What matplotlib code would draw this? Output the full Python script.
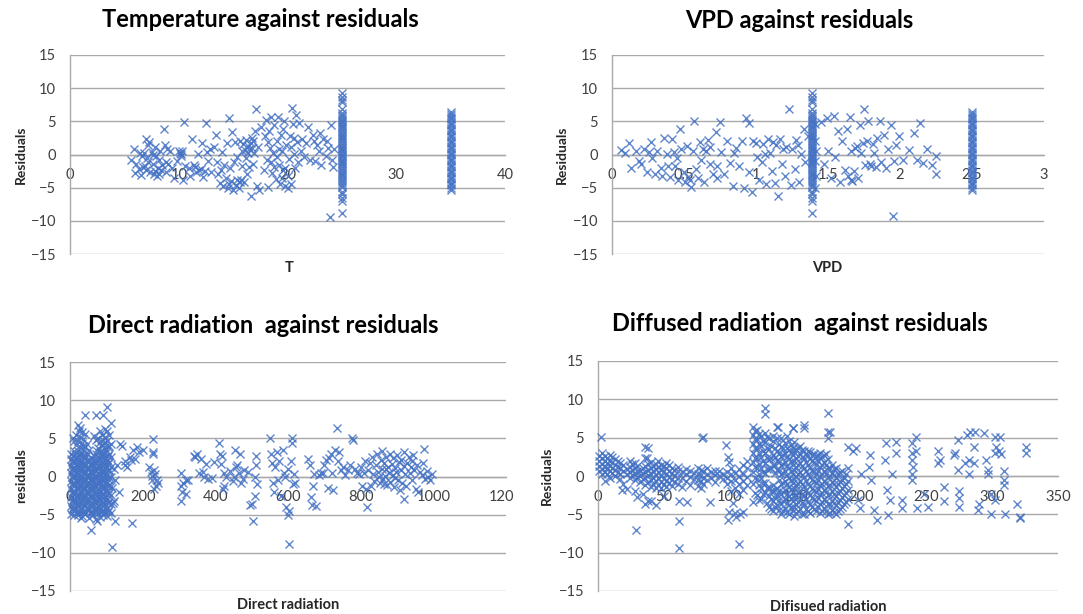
"""Residual plots: temperature, VPD, direct and diffused radiation."""
import numpy as np
import matplotlib.pyplot as plt
from matplotlib.ticker import FuncFormatter
from matplotlib.transforms import Bbox, TransformedBbox

plt.rcParams["font.family"] = ["Lato", "DejaVu Sans"]

BLUE = "#4472C4"
GRID = "#a9a9a9"
TEXT = "#404040"
W, H = 1083, 614

# ---- shared vertical stacks (same records at T=25 / VPD=1.39 and T=35 / VPD=2.5)
stack_a_resid = [-8.8, -7.0, -6.6, -6.0, -5.7, -4.9, -4.6, -4.3, -4.0, -3.7, -3.4, -3.1,
                 -2.9, -2.6, -2.3, -2.1, -1.8, -1.5, -1.3, -1.0, -0.8, -0.5, -0.3, 0.0,
                 0.2, 0.5, 0.7, 1.0, 1.2, 1.5, 1.7, 2.0, 2.3, 2.5, 2.8, 3.0, 3.3, 3.5,
                 3.8, 4.1, 4.3, 4.6, 4.9, 5.1, 5.4, 5.7, 6.0, 6.3, 6.8, 7.9, 8.2, 8.6, 9.2]
stack_b_resid = [-5.3, -5.0, -4.6, -4.4, -4.1, -3.7, -3.5, -3.2, -2.8, -2.6, -2.3, -1.9,
                 -1.7, -1.4, -1.0, -0.8, -0.5, -0.1, 0.1, 0.4, 0.8, 1.0, 1.3, 1.7, 1.9,
                 2.2, 2.6, 2.8, 3.1, 3.5, 3.7, 4.0, 4.4, 4.6, 4.9, 5.3, 5.5, 5.8, 6.1, 6.4]

# ---- Temperature
temp_stack_x = [25.0, 35.0]
temp_points = [
    (5.6, -0.9), (5.9, 0.8), (6.1, -1.5), (6.3, -2.2), (6.5, -3.1), (6.6, -0.3), (6.8, 0.2),
    (6.9, -1.8), (7.0, 2.3), (7.1, -0.6), (7.2, -1.1), (7.3, 1.9), (7.4, -2.6), (7.5, 0.4),
    (7.6, -1.4), (7.7, -2.9), (7.8, 1.2), (7.9, -0.2), (8.0, -3.3), (8.1, -2.0), (8.2, -0.8),
    (8.3, 0.6), (8.4, -2.4), (8.5, -1.6), (8.6, 3.9), (8.7, 1.5), (8.8, -1.2), (8.9, 0.8),
    (9.0, -1.4), (9.2, 0.5), (9.4, -2.1), (6.0, -2.8), (6.7, -1.9), (7.2, 1.5), (7.8, -2.5),
    (8.2, -3.0), (6.4, 0.3), (7.0, -2.3), (7.6, 0.0), (8.8, -2.6),
    (9.8, -1.0), (10.0, 0.5), (10.1, 0.2), (10.2, -0.3), (10.3, 0.6), (10.4, -3.8),
    (10.5, 4.9), (10.6, -1.8), (10.9, -2.0), (11.0, -3.2), (11.2, 2.3), (11.4, -1.6),
    (11.6, -2.6), (11.8, 0.1), (12.0, -2.2), (12.1, 1.8), (12.2, -3.4), (12.4, -2.5),
    (12.5, 4.7), (12.7, -1.0), (12.9, 0.9), (13.0, -2.7), (9.6, -3.6), (11.5, -1.9),
    (12.6, 0.4), (10.2, 0.1), (11.9, -2.3),
    (13.2, 1.1), (13.4, 2.9), (13.6, -3.0), (13.8, -4.3), (14.0, 0.4), (14.1, -4.8),
    (14.3, -3.5), (14.4, 1.8), (14.5, -5.0), (14.6, 5.5), (14.7, -2.0), (14.8, -4.0),
    (14.9, 3.4), (15.0, -5.3), (15.1, -1.2), (15.2, 1.9), (15.3, -4.6), (15.4, -0.4),
    (15.5, -5.1), (15.6, 2.0), (15.7, -3.9), (15.8, -1.8), (15.9, 1.6), (16.0, -4.2),
    (16.1, 0.7), (16.2, 2.2), (16.3, -2.9), (16.4, 1.3), (16.5, 0.9), (16.6, -6.2),
    (16.7, 2.5), (16.8, -1.5), (16.9, 0.3), (17.0, 3.5), (17.1, 6.8), (17.2, -4.8),
    (17.3, 1.2), (16.5, -1.9), (16.2, -0.5), (15.8, 0.5), (14.2, -1.6), (13.9, -2.4),
    (16.6, 1.7), (16.8, 2.0), (17.4, -5.4), (15.4, -3.8), (15.6, -4.1), (16.4, 0.2),
    (16.7, 1.0), (14.6, -4.5), (13.5, -1.1),
    (17.6, 4.1), (17.8, -2.3), (17.9, 2.8), (18.0, 5.2), (18.1, -0.9), (18.2, -4.9),
    (18.3, 3.6), (18.4, 1.0), (18.5, 5.7), (18.6, -2.8), (18.7, 0.2), (18.8, 4.4),
    (18.9, -3.7), (19.0, 2.1), (19.1, 5.6), (19.2, -1.6), (19.3, -4.4), (19.4, 3.0),
    (19.5, 0.6), (19.6, -2.4), (19.7, 5.1), (19.8, -4.8), (19.9, 1.5), (20.0, -3.3),
    (20.1, -0.7), (20.2, 2.8), (20.3, -4.5), (20.4, 7.0), (20.5, 4.6), (20.6, 0.1),
    (20.7, -2.0), (20.8, 5.9), (20.9, 1.9), (21.0, -1.2), (21.1, 4.8), (21.3, 2.3),
    (21.5, -0.4), (21.7, 1.7), (21.9, 4.2), (22.1, -0.9), (22.3, 3.0), (19.8, -2.0),
    (19.5, -3.5), (20.0, -5.0), (18.5, -1.2), (19.2, 0.9), (20.6, 2.5), (18.2, 1.9),
    (19.0, -0.4), (20.3, 1.2), (21.2, 0.6), (18.8, -1.9), (19.6, 3.9),
    (22.5, -1.0), (22.7, 1.5), (22.9, 0.5), (23.1, -1.6), (23.3, 2.4), (23.5, -0.3),
    (23.7, 1.0), (23.9, -9.4), (24.0, 4.4), (24.2, -1.9), (24.3, 0.9), (23.0, 3.3),
    (22.4, 2.0), (23.6, 2.0), (24.1, -0.8),
]

# ---- VPD
vpd_stack_x = [1.39, 2.5]
vpd_points = [
    (0.06, 0.7), (0.09, 0.2), (0.12, 1.7), (0.13, -2.1), (0.17, 0.6), (0.19, -1.0),
    (0.2, -1.4), (0.22, 0.9), (0.24, -2.6), (0.27, 1.9), (0.28, -0.6), (0.3, -2.9),
    (0.31, 0.5), (0.34, -2.1), (0.36, 2.5), (0.38, 0.1), (0.4, -3.4), (0.42, 2.4),
    (0.43, 0.4), (0.44, -1.8), (0.46, -3.9), (0.47, 3.8), (0.48, 0.8), (0.5, -2.6),
    (0.51, -4.2), (0.52, 1.3), (0.53, -3.4), (0.55, -4.9), (0.56, 0.6), (0.57, 5.0),
    (0.58, -2.2), (0.6, -3.6), (0.61, 1.9), (0.62, -0.8), (0.64, -4.1), (0.65, 0.5),
    (0.67, 2.2), (0.68, -1.4), (0.7, -3.0), (0.72, 3.4), (0.73, -1.7), (0.75, 4.9),
    (0.76, 0.4), (0.78, -2.9), (0.8, 2.0), (0.82, -1.3), (0.84, -4.8), (0.86, 1.0),
    (0.88, -1.8), (0.9, 2.1), (0.92, -5.1), (0.93, 5.5), (0.95, -2.7), (0.97, -5.6),
    (0.98, 2.1), (1.0, 1.8), (1.02, -3.8), (1.04, -1.2), (1.05, 1.6), (1.07, -4.5),
    (1.08, 2.4), (1.1, 0.3), (1.11, -2.5), (1.13, -4.3), (1.14, 1.4), (1.15, -6.2),
    (1.17, 2.3), (1.18, -1.5), (1.2, -3.3), (1.21, 1.1), (1.23, 6.9), (1.24, -4.6),
    (1.25, 0.8), (1.27, -2.2), (1.28, 2.2), (1.3, -4.1), (1.31, 0.1), (1.33, 3.9),
    (1.34, -1.2), (1.36, 2.8), (0.73, -3.5), (0.95, 4.8), (1.06, 0.1), (0.45, -0.5),
    (0.35, -3.2), (0.68, 1.2), (1.19, 0.9), (0.26, 0.4), (0.54, -3.9), (0.39, -1.7),
    (0.85, 0.3), (1.12, 1.9), (1.29, 1.4), (1.01, -0.4), (0.63, 0.9),
    (1.41, -5.0), (1.41, 2.0), (1.41, -1.0), (1.41, 4.6), (1.42, 0.6), (1.42, -3.3),
    (1.45, 4.9), (1.47, -1.5), (1.49, 5.5), (1.5, 0.6), (1.52, -3.5), (1.54, 5.8),
    (1.55, -0.4), (1.57, 3.5), (1.58, -4.2), (1.6, 2.0), (1.62, -2.3), (1.63, 3.9),
    (1.65, 5.6), (1.66, 0.6), (1.67, -4.0), (1.68, -2.5), (1.7, 1.3), (1.71, -3.6),
    (1.72, 4.5), (1.73, 0.2), (1.75, 6.9), (1.76, -1.6), (1.77, 2.1), (1.78, 5.1),
    (1.8, -1.7), (1.81, 1.6), (1.83, -1.9), (1.84, 2.5), (1.86, 5.0), (1.87, -1.2),
    (1.89, 3.0), (1.9, -2.0), (1.92, 0.8), (1.94, 4.4), (1.95, -9.3), (1.96, -1.0),
    (1.97, 1.4), (1.99, 2.8), (2.02, -0.8), (2.06, 0.7), (2.1, 3.3), (2.12, -0.8),
    (2.14, 4.8), (2.16, -1.3), (2.19, 0.9), (2.22, -1.6), (2.25, -3.0), (2.25, -0.2),
    (1.74, 1.8), (1.82, 0.3), (1.69, 1.0), (1.64, -3.2), (1.79, -1.4), (1.66, -3.8),
]

# ---- Direct radiation
direct_cluster = {
    2: [-4.9, -3.8, -2.7, -1.6, -0.6, 0.4, 1.4, 2.3, 3.0],
    7: [-4.4, -3.3, -2.2, -1.1, -0.1, 0.9, 1.9, 2.7, 5.1],
    12: [-5.1, -4.0, -2.9, -1.9, -0.8, 0.2, 1.2, 2.1, 3.4, 4.6],
    17: [-4.6, -3.5, -2.4, -1.4, -0.3, 0.7, 1.7, 2.6, 4.1, 5.5],
    22: [-5.0, -3.9, -2.8, -1.7, -0.7, 0.3, 1.3, 2.2, 3.3, 4.7, 6.8],
    27: [-4.5, -3.4, -2.3, -1.2, -0.2, 0.8, 1.8, 2.8, 3.9, 5.2, 6.3],
    32: [-5.2, -4.1, -3.0, -1.9, -0.9, 0.1, 1.1, 2.0, 3.1, 4.4, 5.8],
    37: [-4.7, -3.6, -2.5, -1.5, -0.4, 0.6, 1.6, 2.5, 3.6, 4.9],
    42: [-4.9, -3.9, -2.8, -1.7, -0.6, 0.4, 1.4, 2.4, 3.8, 5.6, 8.1],
    47: [-4.3, -3.3, -2.2, -1.1, 0.0, 1.0, 2.0, 3.0, 4.3],
    52: [-5.4, -4.2, -3.1, -2.0, -0.9, 0.1, 1.1, 2.1, 3.5],
    57: [-4.6, -3.5, -2.4, -1.3, -0.3, 0.7, 1.7, 2.6],
    62: [-5.1, -4.0, -2.9, -1.8, -0.7, 0.3, 1.3, 2.2],
    67: [-4.4, -3.4, -2.3, -1.2, -0.2, 0.8, 1.8, 2.7, 5.3],
    72: [-5.6, -4.5, -3.4, -2.3, -1.2, -0.1, 0.9, 1.9, 2.9, 4.8, 8.0],
    77: [-4.8, -3.7, -2.6, -1.5, -0.5, 0.5, 1.5, 2.5, 3.7, 5.0],
    82: [-5.3, -4.2, -3.1, -2.0, -0.9, 0.2, 1.2, 2.2, 3.2, 4.5, 6.0],
    87: [-4.5, -3.4, -2.3, -1.2, -0.1, 0.9, 1.9, 2.9, 4.1, 5.4],
    92: [-5.0, -3.9, -2.8, -1.7, -0.6, 0.4, 1.4, 2.4, 3.4, 4.8, 8.1],
    97: [-4.7, -3.6, -2.5, -1.4, -0.4, 0.6, 1.6, 2.6, 3.8, 5.2, 6.2],
    102: [-5.2, -4.1, -3.0, -1.9, -0.8, 0.2, 1.2, 2.2, 3.3, 4.6, 5.9, 9.1],
    107: [-4.4, -3.3, -2.2, -1.1, -0.1, 0.9, 1.9, 2.9, 4.0, 5.5],
    112: [-4.8, -3.6, -2.4, -1.2, 0.0, 1.3, 2.6, 4.3, 7.0],
}
direct_cluster_fill = {
    4.5: [-4.3, -3.2, -2.1, -1.0, 0.0, 1.0, 2.0],
    14.5: [-4.4, -3.3, -2.2, -1.1, -0.1, 0.9, 1.9, 2.9],
    24.5: [-4.6, -3.5, -2.4, -1.3, -0.2, 0.8, 1.8, 2.8, 5.9],
    34.5: [-4.5, -3.4, -2.3, -1.2, -0.2, 0.8, 1.8, 2.8, 4.0],
    44.5: [-4.6, -3.5, -2.4, -1.3, -0.3, 0.7, 1.7, 2.7],
    54.5: [-4.8, -3.7, -2.6, -1.5, -0.4, 0.6, 1.6],
    64.5: [-4.7, -3.6, -2.5, -1.4, -0.3, 0.7, 1.7],
    74.5: [-4.3, -3.2, -2.1, -1.0, 0.0, 1.0, 2.0, 3.3],
    84.5: [-4.7, -3.6, -2.5, -1.4, -0.3, 0.7, 1.7, 2.7, 4.0],
    94.5: [-4.4, -3.3, -2.2, -1.1, -0.1, 0.9, 1.9, 2.9, 4.4],
    104.5: [-4.6, -3.5, -2.4, -1.3, -0.3, 0.7, 1.7, 2.7, 3.9],
}
direct_points = [
    (30, -5.4), (57, -7.0), (75, -5.8), (115, -9.3), (118, -3.5), (124, -5.8),
    (130, 1.5), (138, 4.2), (144, 4.0), (150, 2.0), (158, 1.2), (164, 2.6), (174, 3.5),
    (180, 2.3), (185, 3.8), (190, 3.2), (200, 3.5), (170, -6.1), (134, -2.0), (125, -0.5),
    (120, 1.0), (116, -1.5), (121, -3.2), (152, 1.5), (168, 2.2),
    (218, 1.3), (222, 0.6), (225, 0.1), (228, 4.9), (228, 3.2), (228, 2.9), (232, -1.6),
    (235, 0.3), (240, -0.4), (243, -0.8), (230, 0.8), (237, -1.2), (225, -0.5),
    (305, 0.4), (305, -1.3), (306, -3.2), (308, -2.0), (312, -0.8), (318, -0.5),
    (320, -2.3), (325, -0.4),
    (340, 2.7), (345, 2.5), (350, 3.0), (360, 2.3), (365, 0.6), (370, 0.0), (375, 1.7),
    (380, -0.3), (390, -0.2), (395, 1.9), (355, 0.4),
    (410, 4.4), (412, 3.0), (415, 1.6), (418, 2.7), (420, -1.6), (425, 0.4), (430, 0.0),
    (440, 0.7), (448, -0.6), (455, 3.5), (458, 1.2), (460, 1.5), (465, 0.5), (468, 3.0),
    (470, -0.8), (475, -0.3), (480, 0.9), (490, 0.6), (495, -3.7), (500, -3.6),
    (505, -5.8), (508, -2.6), (510, 0.0), (512, 2.7), (513, 1.5), (515, -1.0), (450, 0.0),
    (425, -1.3),
    (550, 5.0), (552, 3.0), (555, 1.8), (560, -0.8), (562, -2.0), (565, 1.3), (570, 3.2),
    (575, 2.0), (580, -2.6), (585, 3.5), (590, 0.5), (592, 0.0), (595, -4.0), (600, -5.0),
    (602, -4.5), (603, -8.9), (608, 2.0), (610, 5.1), (612, 4.4), (615, -1.0), (617, 0.3),
    (620, -0.9), (600, 1.0), (572, -0.5),
    (655, 2.3), (660, 1.5), (662, -2.7), (665, -3.7), (668, -1.2), (672, 0.3),
    (678, -3.8), (685, 0.2), (690, 0.5), (695, 0.5), (700, 1.5), (705, 2.1), (710, -1.5),
    (712, 2.4), (718, 3.0), (720, 0.5), (725, -1.8), (730, 3.5), (735, 6.3), (738, 2.0),
    (740, 3.2), (745, 0.8), (750, 1.3), (758, 0.2), (765, 0.8), (775, 5.0), (780, 4.8),
    (785, 1.0), (790, 0.5), (795, 0.3), (770, 1.5),
    (800, 1.2), (805, -1.3), (808, 0.5), (812, 2.0), (815, -1.7), (818, -4.0), (820, 0.9),
    (825, 1.8), (828, -1.2), (832, 2.6), (835, 0.3), (838, -0.6), (842, 1.5), (845, 3.0),
    (848, 0.6), (852, -0.8), (855, 2.2), (858, 1.0), (860, 3.4), (862, -0.3), (865, 1.8),
    (868, 0.1), (870, 2.6), (872, -1.1), (875, 1.3), (878, 0.4), (880, 2.9), (882, -0.7),
    (885, 1.6), (888, 0.2), (890, 2.4), (892, -1.4), (895, 1.1), (898, 0.6), (900, 2.8),
    (902, -0.4), (905, 1.9), (908, -1.8), (910, 0.8), (912, 2.2), (915, -0.9), (918, 1.4),
    (920, 3.2), (922, 0.3), (925, -1.2), (928, 1.8), (918, -3.0), (932, 2.5), (935, 0.5),
    (938, 1.2), (940, -0.5), (942, 2.0), (945, 2.8), (948, 0.9), (952, -1.6), (955, 1.5),
    (958, -2.0), (962, 0.6), (968, 0.2), (972, 1.8), (975, 3.6), (978, -0.3), (982, 0.7),
    (985, 0.0), (990, -0.5), (995, 0.3), (850, 0.0), (865, -1.0), (895, -0.2), (870, 1.0),
]

# ---- Diffused radiation
diffuse_band = {
    1: [0.6, 1.3, 2.0, 2.6], 3: [0.2, 0.9, 1.6, 2.3, 3.0], 5: [-0.6, 0.5, 1.2, 1.9, 2.6],
    7: [0.3, 1.0, 1.7, 2.4], 9: [-0.2, 0.6, 1.3, 2.0, 2.7], 11: [0.4, 1.1, 1.8, 2.5],
    13: [0.0, 0.8, 1.5, 2.2], 15: [0.5, 1.2, 1.9], 17: [-0.4, 0.3, 1.0, 1.7],
    19: [-1.0, 0.6, 1.4], 22: [-1.7, 0.2, 0.9], 24: [-0.3, 0.5, 1.2, 2.0],
    26: [0.1, 0.8, 1.6], 28: [-0.5, 0.3, 1.0, 1.7], 30: [-2.8, -0.1, 0.6, 1.3],
    32: [-0.8, 0.0, 0.7], 34: [-2.4, -0.4, 0.4, 1.1],
    36: [-3.7, -1.2, -0.3, 0.5, 1.3, 2.3, 3.8], 38: [-3.2, -0.8, 0.1, 0.8, 1.6],
    40: [-1.4, -0.5, 0.3, 1.0, 1.8], 42: [-1.0, -0.2, 0.6, 1.3],
    44: [-1.5, -0.7, 0.1, 0.9, 1.6], 46: [-1.2, -0.3, 0.5, 1.2, 2.0],
    48: [-1.6, -0.8, 0.0, 0.8, 1.5], 50: [-1.1, -0.2, 0.6, 1.3],
    52: [-1.4, -0.6, 0.2, 1.0, 1.7], 54: [-0.9, -0.1, 0.7, 1.4], 56: [-1.3, -0.4, 0.4, 1.1],
    58: [-0.8, 0.0, 0.8], 61: [-1.0, -0.2, 0.6, 1.2], 64: [-1.4, -0.3, 0.5],
    67: [-0.6, 0.2, 0.9], 70: [-1.2, -0.1, 0.7], 73: [-0.4, 0.4], 76: [-1.3, -0.5, 0.3, 1.0],
    78: [-1.6, -0.7, 0.1, 0.8], 80: [-1.0, -0.2, 0.6], 83: [-0.5, 0.3, 1.1], 86: [-0.2, 0.5],
    89: [-0.8, 0.1, 0.7], 92: [0.0, 0.6], 95: [-0.4, 0.3], 98: [-1.1, -0.2, 0.5],
    101: [-2.0, -0.6, 0.2, 1.0], 104: [-1.5, -0.5, 0.4], 107: [-2.4, -1.0, 0.0, 0.9],
    110: [-1.8, -0.7, 0.3, 1.5], 113: [-1.2, -0.1, 1.0, 2.0],
}
diffuse_cluster = {
    118: [-3.4, -1.0, 0.5, 1.8, 3.0, 4.2, 5.3, 6.4],
    121: [-2.5, -0.4, 1.0, 2.4, 3.6, 4.8, 6.0],
    124: [-3.0, -1.6, -0.3, 1.1, 2.5, 3.9, 5.2],
    127: [-2.2, -0.9, 0.4, 1.7, 3.0, 4.4, 5.6, 8.1, 8.9],
    130: [-4.0, -2.6, -1.4, 0.9, 2.2, 3.5, 4.9],
    133: [-4.6, -3.3, -2.0, -1.2, 1.5, 2.8, 4.6, 5.2],
    136: [-3.8, -2.5, -1.5, 0.8, 2.0, 3.2, 5.0, 6.4],
    139: [-4.9, -3.6, -2.4, -1.1, 0.2, 1.4, 2.6, 3.8, 4.9],
    142: [-4.2, -3.0, -1.8, -0.6, 0.6, 1.8, 3.0, 4.3],
    145: [-5.0, -3.8, -2.6, -1.4, -0.2, 1.0, 2.2, 3.4, 4.6],
    148: [-4.5, -3.3, -2.1, -0.9, 0.3, 1.5, 2.7, 3.7, 6.2],
    151: [-4.8, -3.6, -2.4, -1.2, 0.0, 1.2, 2.4, 3.5],
    154: [-4.3, -3.1, -1.9, -0.7, 0.5, 1.7, 2.9, 3.9],
    157: [-5.0, -3.7, -2.5, -1.3, -0.1, 1.1, 2.3, 3.2, 6.2, 6.7],
    160: [-4.6, -3.4, -2.2, -1.0, 0.2, 1.4, 2.6, 3.3],
    163: [-4.0, -2.9, -1.7, -0.5, 0.7, 1.9, 2.8],
    166: [-4.5, -3.3, -2.1, -0.9, 0.3, 1.5, 2.6],
    169: [-4.8, -3.6, -2.4, -1.2, 0.0, 1.2, 2.4, 3.0],
    172: [-4.2, -3.0, -1.8, -0.6, 0.6, 1.8, 2.7],
    175: [-4.9, -3.7, -2.5, -1.3, -0.1, 1.1, 2.2, 4.9, 5.8, 8.2],
    178: [-4.4, -3.2, -2.0, -0.8, 0.4, 1.5],
    181: [-5.0, -3.8, -2.6, -1.4, -0.2, 1.0],
    184: [-4.3, -3.1, -1.9, -0.7, 0.5],
    187: [-3.7, -2.5, -1.3, -0.2],
    190: [-3.0, -1.8, -0.6, 1.0],
}
diffuse_cluster_fill = {
    119.5: [-2.2, -0.3, 1.2, 2.4, 3.6, 4.8, 5.9],
    122.5: [-3.1, -1.2, 0.2, 1.6, 3.0, 4.2, 5.5],
    125.5: [-2.4, -0.9, 0.5, 1.9, 3.2, 4.6],
    128.5: [-3.5, -1.6, 0.9, 2.3, 3.6, 5.1],
    131.5: [-4.3, -3.0, -1.9, 1.1, 2.4, 3.9],
    134.5: [-4.1, -2.9, -1.8, 0.4, 1.4, 2.5, 3.7],
    137.5: [-4.4, -3.1, -1.9, -0.5, 0.6, 1.8, 2.9, 4.2],
    140.5: [-4.6, -3.3, -2.1, -0.9, 0.4, 1.6, 2.8, 3.6],
    143.5: [-4.7, -3.5, -2.3, -1.1, 0.1, 1.3, 2.5, 3.7, 5.2],
    146.5: [-4.1, -2.9, -1.7, -0.5, 0.7, 1.9, 3.1, 4.0],
    149.5: [-5.2, -4.0, -2.8, -1.6, -0.4, 0.8, 2.0, 3.1, 4.4],
    152.5: [-4.6, -3.4, -2.2, -1.0, 0.2, 1.4, 2.6, 3.6],
    155.5: [-4.9, -3.5, -2.3, -1.1, 0.1, 1.3, 2.5, 3.4],
    158.5: [-4.3, -3.0, -1.8, -0.6, 0.6, 1.8, 2.9],
    161.5: [-4.8, -3.7, -2.5, -1.3, -0.1, 1.1, 2.2, 3.1],
    164.5: [-4.3, -3.0, -1.8, -0.6, 0.6, 1.8, 2.9],
    167.5: [-4.1, -2.9, -1.7, -0.5, 0.7, 1.9, 2.8],
    170.5: [-4.6, -3.4, -2.2, -1.0, 0.2, 1.4, 2.5],
    173.5: [-4.5, -3.3, -2.1, -0.9, 0.3, 1.5, 2.9],
    176.5: [-4.8, -3.6, -2.4, -1.2, 0.0, 1.0],
    179.5: [-4.7, -3.5, -2.3, -1.1, 0.1, 0.9],
    182.5: [-4.6, -3.4, -2.2, -1.0, 0.3],
    185.5: [-4.0, -2.8, -1.6, -0.5, 0.6],
    188.5: [-3.4, -2.2, -1.0, 0.2],
}
diffuse_points = [
    (2.3, 5.1), (37.8, 3.7), (37.5, 2.3), (79, 5.0), (80, 5.1), (97.5, 4.0), (99, 2.5),
    (100, 1.8), (29, -7.0), (62, -9.4), (62, -5.9), (62, -3.3), (107, -8.9), (105, -5.3),
    (104, -4.8), (100, -4.7), (99, -5.8), (103, -3.5), (108, -5.0), (40, -3.3), (44, -3.8),
    (50, -2.6), (28, -2.0), (18, -1.8), (68, -3.4), (85, -3.4), (110, -4.7),
    (136.8, 6.4), (148.7, 6.2), (176.6, 5.8),
    (190, 3.8), (194, 3.2), (196, 3.6), (198, -3.1), (199, -4.2), (190, -6.2), (200, 0.3),
    (207, 2.7), (208, -0.5), (210, -4.4), (212, -5.7), (206, 1.2),
    (218, 2.1), (219, 4.3), (220, -1.8), (222, -3.1), (221, -5.1), (224, 0.3), (227, 4.5),
    (227, 3.0), (231, -3.1), (231, -4.2),
    (239, 4.3), (239, 3.0), (239, 2.1), (240, 1.2), (239, 0.3), (239, -0.5), (242, 5.1),
    (243, -4.2), (242, 3.2), (248, -2.3), (251, -4.0),
    (259, 3.2), (259, 1.7), (260, 2.1), (263, -1.4), (263, -3.3),
    (271, 2.7), (272, 3.0), (274, 4.7), (274, 0.8), (275, -2.0), (275, -2.9), (275, -4.0),
    (279, 1.7), (281, 5.3), (282, 2.1), (282, 0.3), (283, 5.8), (286, 3.8), (287, 5.8),
    (286, 1.7), (289, -4.4), (290, -3.6),
    (294, 5.6), (295, 2.1), (297, 0.8), (297, 0.3), (299, -4.9), (302, 5.1), (302, 3.0),
    (303, 3.8), (305, 3.2), (306, 5.1), (307, 2.9), (309, 0.6), (309, -0.5), (309, -1.2),
    (310, -4.9), (302, -3.1), (299, -2.3),
    (319, -3.6), (321, -5.3), (321, -5.5), (326, 3.8), (326, 3.0),
]


def stacks_xy(stack_x, resid_lists):
    xs, ys = [], []
    for x, vals in zip(stack_x, resid_lists):
        xs += [x] * len(vals)
        ys += vals
    return xs, ys


def cols_xy(cols):
    xs, ys = [], []
    for x, vals in cols.items():
        xs += [x] * len(vals)
        ys += vals
    return xs, ys


def pts_xy(pts):
    return [p[0] for p in pts], [p[1] for p in pts]


def draw(ax, parts):
    for xs, ys in parts:
        ax.plot(xs, ys, "x", ls="none", color=BLUE, ms=5.3, mew=1.0,
                alpha=0.85, zorder=3, clip_on=False)


def style(ax, xmax, xstep):
    ax.set_xlim(0, xmax)
    ax.set_ylim(-15, 15)
    ax.set_xticks(np.arange(0, xmax + xstep / 2, xstep))
    ax.set_yticks(np.arange(-15, 16, 5))
    ax.xaxis.set_major_formatter(FuncFormatter(lambda v, p: f"{v:g}"))
    ax.grid(axis="y", color=GRID, lw=1.0, zorder=0)
    ax.set_axisbelow(True)
    for s in ("top", "right"):
        ax.spines[s].set_visible(False)
    ax.spines["left"].set_color(GRID)
    ax.spines["left"].set_linewidth(1.0)
    ax.spines["bottom"].set_position(("data", 0))
    ax.spines["bottom"].set_color(GRID)
    ax.spines["bottom"].set_linewidth(1.0)
    ax.tick_params(axis="both", length=0, labelsize=10.5, labelcolor=TEXT)
    ax.tick_params(axis="x", pad=10)
    ax.tick_params(axis="y", pad=10)


def fx(px):
    return px / W


def fy(py):
    return 1 - py / H


fig = plt.figure(figsize=(W / 100, H / 100), dpi=100)

ax1 = fig.add_axes([fx(70), fy(254), fx(435), 199 / H])
ax2 = fig.add_axes([fx(612), fy(254), fx(432), 199 / H])
ax3 = fig.add_axes([fx(70), fy(591), fx(436), 229 / H])
ax4 = fig.add_axes([fx(598), fy(591), fx(460), 230 / H])

draw(ax1, [pts_xy(temp_points), stacks_xy(temp_stack_x, [stack_a_resid, stack_b_resid])])
draw(ax2, [pts_xy(vpd_points), stacks_xy(vpd_stack_x, [stack_a_resid, stack_b_resid])])
draw(ax3, [cols_xy(direct_cluster), cols_xy(direct_cluster_fill), pts_xy(direct_points)])
draw(ax4, [cols_xy(diffuse_band), cols_xy(diffuse_cluster), cols_xy(diffuse_cluster_fill),
           pts_xy(diffuse_points)])

style(ax1, 40, 10)
style(ax2, 3, 0.5)
style(ax3, 1200, 200)
style(ax4, 350, 50)

# the right-hand tick label of the direct radiation chart is cut off in the source
clip = TransformedBbox(Bbox.from_extents(0, 0, fx(514), 1), fig.transFigure)
for t in ax3.xaxis.get_major_ticks():
    t.label1.set_clip_box(clip)
    t.label1.set_clip_on(True)

titles = [
    ("Temperature against residuals", 260, 27),
    ("VPD against residuals", 799, 28),
    ("Direct radiation  against residuals", 263, 333),
    ("Diffused radiation  against residuals", 800, 331),
]
for txt, cx, base in titles:
    fig.text(fx(cx), fy(base), txt, ha="center", va="baseline",
             fontsize=17, fontweight="bold", color="black")

xlabels = [("T", 289, 272), ("VPD", 827, 272),
           ("Direct radiation", 288, 609), ("Difisued radiation", 828, 611)]
for txt, cx, base in xlabels:
    fig.text(fx(cx), fy(base), txt, ha="center", va="baseline",
             fontsize=10.5, fontweight="bold", color="#262626")

ylabels = [("Residuals", 21, 155), ("Residuals", 562, 155),
           ("residuals", 21, 476), ("Residuals", 547, 476)]
for txt, cx, cy in ylabels:
    fig.text(fx(cx), fy(cy), txt, ha="center", va="center", rotation=90,
             fontsize=10, fontweight="bold", color="#262626")

fig.savefig("out.png", dpi=100)
